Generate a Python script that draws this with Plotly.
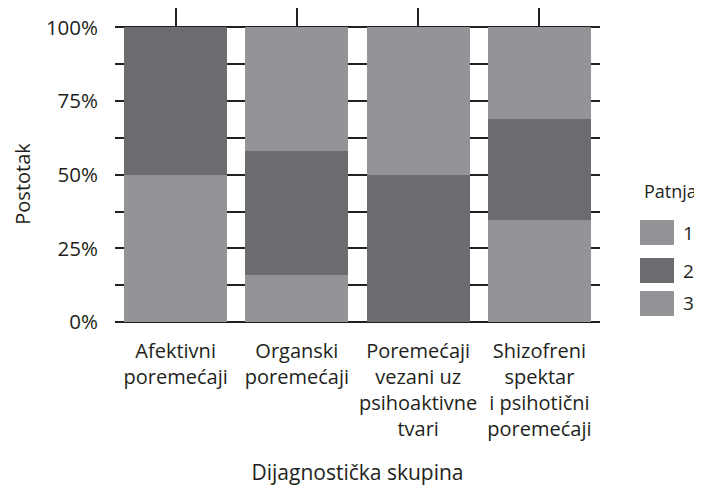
import plotly.graph_objects as go

categories = ["Afektivni poremećaji", "Organski poremećaji",
              "Poremećaji vezani uz psihoaktivne tvari",
              "Shizofreni spektar i psihotični poremećaji"]
category_labels = ["Afektivni<br>poremećaji", "Organski<br>poremećaji",
                   "Poremećaji<br>vezani uz<br>psihoaktivne<br>tvari",
                   "Shizofreni<br>spektar<br>i psihotični<br>poremećaji"]
series_names = ["1", "2", "3"]
patnja_1 = [0.0, 42.1, 50.0, 31.0]
patnja_2 = [50.0, 42.1, 50.0, 34.5]
patnja_3 = [50.0, 15.8, 0.0, 34.5]
y_tick_vals = [0, 25, 50, 75, 100]
y_tick_text = ["0%", "25%", "50%", "75%", "100%"]

LIGHT = "#939497"
DARK = "#6b6c70"
colors = {"1": LIGHT, "2": DARK, "3": LIGHT}
values = {"1": patnja_1, "2": patnja_2, "3": patnja_3}

FONT = "Open Sans"
TXT = "#231f20"
GRID = "#231f20"

fig = go.Figure()
for name in ["3", "2", "1"]:
    fig.add_trace(go.Bar(x=categories, y=values[name], name=name,
                         marker=dict(color=colors[name], line=dict(width=0)),
                         showlegend=False))

# page body has an 8px margin, so the figure is 8px smaller than the window
fig.update_layout(
    width=694, height=486,
    barmode="stack", bargap=0.15,
    paper_bgcolor="white", plot_bgcolor="white",
    margin=dict(l=107, r=102, t=0, b=172),
    font=dict(family=FONT, size=19, color=TXT),
    showlegend=False,
)
fig.update_xaxes(
    tickvals=categories, ticktext=category_labels,
    showgrid=True, gridcolor=GRID, gridwidth=2,
    showline=False, zeroline=False, ticks="",
    ticklabelstandoff=15,
    title=dict(text="Dijagnostička skupina", standoff=24, font=dict(size=21)),
    tickfont=dict(size=20),
)
fig.update_yaxes(
    range=[0, 106.6], tickvals=y_tick_vals, ticktext=y_tick_text,
    showgrid=True, gridcolor=GRID, gridwidth=2,
    minor=dict(dtick=12.5, tick0=0, showgrid=True, gridcolor=GRID, gridwidth=2),
    zeroline=True, zerolinecolor=GRID, zerolinewidth=2,
    showline=False, ticks="", ticklabelstandoff=16,
    tickfont=dict(size=20.5),
)

# y-axis title (placed as in the reference, slightly below centre)
fig.add_annotation(text="Postotak", xref="paper", yref="paper", x=-0.19, y=0.44,
                   xanchor="center", yanchor="middle", textangle=-90,
                   showarrow=False, font=dict(size=20))

# manual legend (large swatches)
fig.add_annotation(text="Patnja", xref="paper", yref="paper", x=1.0866, y=0.417,
                   xanchor="left", yanchor="middle", showarrow=False,
                   font=dict(size=18))
legend_y = [0.285, 0.164, 0.059]
for i, name in enumerate(series_names):
    yc = legend_y[i]
    fig.add_shape(type="rect", xref="paper", yref="paper",
                  x0=1.0825, x1=1.1526, y0=yc - 0.040, y1=yc + 0.040,
                  fillcolor=colors[name], line=dict(width=0))
    fig.add_annotation(text=name, xref="paper", yref="paper", x=1.166, y=yc,
                       xanchor="left", yanchor="middle", showarrow=False,
                       font=dict(size=19))

fig.write_html("out.html")
